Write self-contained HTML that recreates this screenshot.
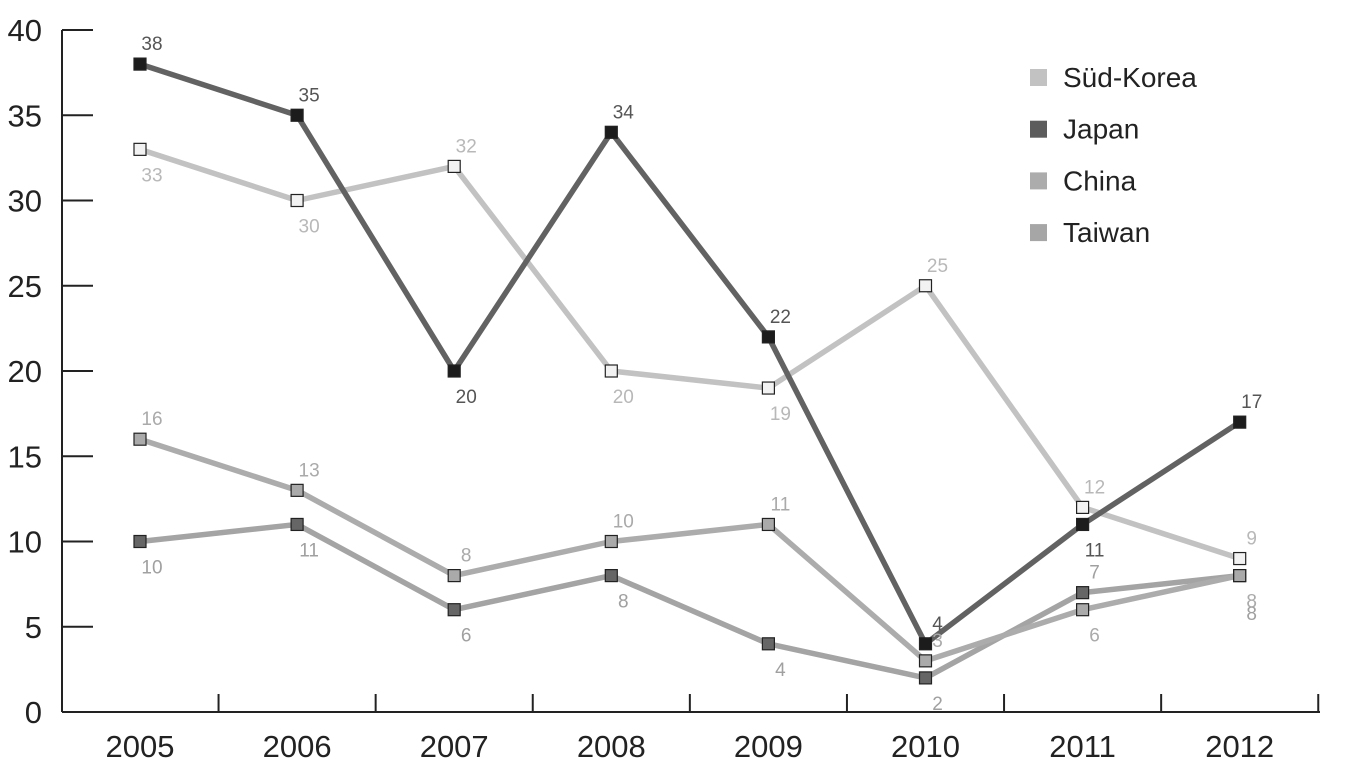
<!DOCTYPE html>
<html><head><meta charset="utf-8"><style>
body{margin:0;background:#fff;}
svg{display:block;font-family:"Liberation Sans",Arial,sans-serif;}
</style></head><body>
<svg id="chart" width="1352" height="772" viewBox="0 0 1352 772">
<g id="axes"></g><g id="lines"></g><g id="labels"></g><g id="legend"></g>
</svg>
<script>
const years = ["2005","2006","2007","2008","2009","2010","2011","2012"];
const korea = [33,30,32,20,19,25,12,9];
const japan = [38,35,20,34,22,4,11,17];
const china = [16,13,8,10,11,3,6,8];
const taiwan = [10,11,6,8,4,2,7,8];
const yTicks = [0,5,10,15,20,25,30,35,40];
const seriesNames = ["Süd-Korea","Japan","China","Taiwan"];

const NS="http://www.w3.org/2000/svg";
const x0=140, dx=157.1, yBase=712, yScale=17.05;
const X=i=>x0+i*dx;
const Y=v=>yBase-v*yScale;
function mk(tag,attrs,parent){const e=document.createElementNS(NS,tag);for(const k in attrs)e.setAttribute(k,attrs[k]);parent.appendChild(e);return e;}
const axes=document.getElementById('axes'),lines=document.getElementById('lines'),labels=document.getElementById('labels'),legend=document.getElementById('legend');

let a=mk('line',{x1:62,y1:Y(40),x2:62,y2:yBase,stroke:'#222','stroke-width':2},axes);


a=mk('line',{x1:62,y1:yBase,x2:1320,y2:yBase,stroke:'#222','stroke-width':2},axes);


yTicks.forEach(v=>{
  if(v>0){const t=mk('line',{x1:62,y1:Y(v),x2:93,y2:Y(v),stroke:'#222','stroke-width':2},axes);
  
  }
  const l=mk('text',{x:42,y:Y(v)+11,'text-anchor':'end','font-size':31,fill:'#222'},axes);
  l.textContent=v;
  
  
});
years.forEach((yr,i)=>{
  const tx=X(i)+dx/2;
  const t=mk('line',{x1:tx,y1:yBase,x2:tx,y2:yBase-18,stroke:'#222','stroke-width':2},axes);
  
  
  const l=mk('text',{x:X(i),y:757,'text-anchor':'middle','font-size':31,fill:'#222'},axes);
  l.textContent=yr;
  
  
});

const series=[
 {key:'sued-korea',data:korea,line:'#c2c2c2',mark:'#f2f2f2',lab:'#b8b8b8',pos:[1,1,-1,1,1,-1,-1,-1]},
 {key:'japan',data:japan,line:'#626262',mark:'#1c1c1c',lab:'#555',pos:[-1,-1,1,-1,-1,-1,1,-1]},
 {key:'china',data:china,line:'#acacac',mark:'#aaaaaa',lab:'#aaa',pos:[-1,-1,-1,-1,-1,-1.6,1,1]},
 {key:'taiwan',data:taiwan,line:'#a4a4a4',mark:'#666',lab:'#a0a0a0',pos:[1,1,1,1,1,1,-1,1.7]}
];
const order=[3,2,0,1];
order.forEach(si=>{
  const s=series[si];
  const p=mk('polyline',{points:s.data.map((v,i)=>X(i)+','+Y(v)).join(' '),fill:'none',stroke:s.line,'stroke-width':5.5,'stroke-linejoin':'round'},lines);
  
  
});
order.forEach(si=>{
  const s=series[si];
  s.data.forEach((v,i)=>{
    const r=mk('rect',{x:X(i)-6,y:Y(v)-6,width:12,height:12,fill:s.mark,stroke:'#222','stroke-width':1.2},lines);
    
    
    const d=s.pos[i];
    const ly=d>0?Y(v)+14+18*(d-1)+18:Y(v)-14;
    const t=mk('text',{x:X(i)+12,y:ly,'text-anchor':'middle','font-size':19,fill:s.lab},labels);
    t.textContent=v;
    
    
  });
});
const legCols=['#c2c2c2','#5c5c5c','#acacac','#a6a6a6'];
seriesNames.forEach((n,i)=>{
  const y=77+i*51.7;
  const r=mk('rect',{x:1030,y:y-8,width:17,height:17,fill:legCols[i]},legend);
  
  
  const t=mk('text',{x:1063,y:y+10,'font-size':28,fill:'#222'},legend);
  t.textContent=n;
  
  
});
</script>
</body></html>
